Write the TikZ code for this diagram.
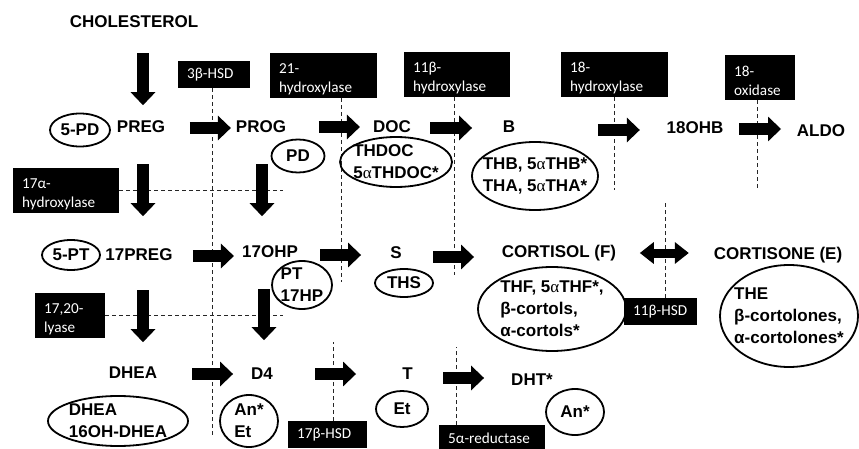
\documentclass[tikz,border=0pt]{standalone}
\usepackage{fontspec}
\setmainfont{Liberation Sans}
\newfontfamily\boxf{Carlito}
\newfontfamily\symf{Liberation Serif}
\usetikzlibrary{arrows.meta,shapes.geometric}
\newcommand{\al}{{\symf\mdseries α}}
\newcommand{\tstr}{\rule{0pt}{17pt}}
\begin{document}
\begin{tikzpicture}[x=1pt,y=-1pt,
  lbl/.style={font=\fontsize{17}{20}\selectfont\bfseries, inner sep=0pt},
  enz/.style={fill=black, text=white, font=\boxf\fontsize{15.2}{19}\selectfont, anchor=north west, inner xsep=9pt, inner ysep=0pt, align=left},
  ell/.style={ellipse, draw, line width=1.8pt, inner sep=0pt},
  etxt/.style={font=\fontsize{17}{22}\selectfont\bfseries, inner sep=0pt, align=left},
  fat/.style={line width=11.5pt, -{Triangle[length=13pt,width=24pt]}},
  dbl/.style={line width=9pt, {Triangle[length=14pt,width=21pt]}-{Triangle[length=14pt,width=21pt]}},
  dsh/.style={dash pattern=on 4pt off 3pt, line width=1pt, black!85}]
\useasboundingbox (0,0) rectangle (859,449);

% enzyme boxes
\node[enz, text width=54pt, minimum height=27pt] (hsd3) at (178,61) {3β-HSD};
\node[enz, text width=89pt, minimum height=45pt] (h21) at (270,53) {\tstr 21-\\hydroxylase};
\node[enz, text width=88pt, minimum height=45pt] (h11) at (404,52) {\tstr 11β-\\hydroxylase};
\node[enz, text width=89pt, minimum height=45pt] (h18) at (561,52) {\tstr 18-\\hydroxylase};
\node[enz, text width=52pt, minimum height=45pt] (ox18) at (725,55) {\tstr 18-\\oxidase};
\node[enz, text width=88pt, minimum height=45pt] (h17) at (13,168) {\tstr 17α-\\hydroxylase};
\node[enz, text width=52pt, minimum height=45pt] (ly) at (35,293) {\tstr 17,20-\\lyase};
\node[enz, text width=55pt, minimum height=27pt] (hsd11) at (624,298) {11β-HSD};
\node[enz, text width=61pt, minimum height=27pt] (hsd17) at (288,421) {17β-HSD};
\node[enz, text width=88pt, minimum height=26pt] (red5) at (439,425) {5α-reductase};

% dashed lines
\draw[dsh] ([xshift=34pt]hsd3.south west) -- ++(0,347);
\draw[dsh] ([xshift=71pt]h21.south west) -- ++(0,184);
\draw[dsh] ([xshift=50pt]h11.south west) -- ++(0,178);
\draw[dsh] ([xshift=53pt]h18.south west) -- ++(0,93);
\draw[dsh] ([xshift=32pt]ox18.south west) -- ++(0,88);
\draw[dsh] (h17.east) -- ++(164,0);
\draw[dsh] (ly.east) -- ++(178,0);
\draw[dsh] ([xshift=41pt]hsd11.north west) -- ++(0,-95);
\draw[dsh] ([xshift=45pt]hsd17.north west) -- ++(0,-79);
\draw[dsh] ([xshift=17pt]red5.north west) -- ++(0,-78);

% labels
\node[lbl] (chol) at (134,22) {CHOLESTEROL};
\node[lbl] (preg) at (141,127) {PREG};
\node[lbl] (prog) at (261,127) {PROG};
\node[lbl] (doc) at (392,127) {DOC};
\node[lbl] (b) at (509,127) {B};
\node[lbl] (ohb) at (695,128) {18OHB};
\node[lbl] (aldo) at (821,131) {ALDO};
\node[lbl] (preg17) at (139,255) {17PREG};
\node[lbl] (ohp17) at (270,252) {17OHP};
\node[lbl] (s) at (396,253) {S};
\node[lbl] (cort) at (559,253) {CORTISOL (F)};
\node[lbl] (cortE) at (778,255) {CORTISONE (E)};
\node[lbl] (dhea) at (133,373) {DHEA};
\node[lbl] (d4) at (262,374) {D4};
\node[lbl] (t) at (407.5,374) {T};
\node[lbl] (dht) at (532,380) {DHT*};

% ellipses
\node[ell, minimum width=60pt, minimum height=33pt] (pdE) at (80,130) {};
\node[etxt] (pd5) at (pdE) {5-PD};
\node[ell, minimum width=53pt, minimum height=33pt] (pdE2) at (298,156) {};
\node[etxt] (pd) at (pdE2) {PD};
\node[ell, minimum width=112pt, minimum height=50pt] (thdocE) at (396,162) {};
\node[etxt] (thdoc) at (thdocE) {THDOC\\5\al THDOC*};
\node[ell, minimum width=126pt, minimum height=68pt] (thbE) at (535,176) {};
\node[etxt] (thb) at (thbE) {THB, 5\al THB*\\THA, 5\al THA*};
\node[ell, minimum width=58pt, minimum height=30pt] (ptE) at (71,255) {};
\node[etxt] (pt5) at (ptE) {5-PT};
\node[ell, minimum width=60pt, minimum height=48pt] (pthpE) at (302,285) {};
\node[etxt] (pthp) at (pthpE) {PT\\17HP};
\node[ell, minimum width=58pt, minimum height=28pt] (thsE) at (404,283) {};
\node[etxt] (ths) at (thsE) {THS};
\node[ell, minimum width=148pt, minimum height=84pt] (thfE) at (552,309) {};
\node[etxt] (thf) at (thfE) {THF, 5\al THF*,\\β-cortols,\\α-cortols*};
\node[ell, minimum width=138pt, minimum height=102pt] (theE) at (789,316) {};
\node[etxt] (the) at (theE) {THE\\β-cortolones,\\α-cortolones*};
\node[ell, minimum width=140pt, minimum height=50pt] (dheaE) at (118,421) {};
\node[etxt] (dhea16) at (dheaE) {DHEA\\16OH-DHEA};
\node[ell, minimum width=58pt, minimum height=52pt] (anetE) at (249,421) {};
\node[etxt] (anet) at (anetE) {An*\\Et};
\node[ell, minimum width=52pt, minimum height=36pt] (etE) at (402,409) {};
\node[etxt] (et) at (etE) {Et};
\node[ell, minimum width=58pt, minimum height=46pt] (anE) at (575,412) {};
\node[etxt] (an) at (anE) {An*};

% horizontal block arrows
\draw[fat] ([xshift=24.6pt,yshift=-1pt]preg.east) -- ++(41,0);
\draw[fat] ([xshift=32.7pt]prog.east) -- ++(41,0);
\draw[fat] ([xshift=19pt,yshift=-1pt]doc.east) -- ++(42,0);
\draw[fat] ([xshift=82.5pt,yshift=-3pt]b.east) -- ++(42,0);
\draw[fat] ([xshift=15.5pt,yshift=-1pt]ohb.east) -- ++(42,0);
\draw[fat] ([xshift=20.2pt,yshift=-1pt]preg17.east) -- ++(41,0);
\draw[fat] ([xshift=22pt,yshift=-3pt]ohp17.east) -- ++(41,0);
\draw[fat] ([xshift=31.2pt,yshift=-4pt]s.east) -- ++(41,0);
\draw[dbl] ([xshift=23.5pt]cort.east) -- ++(49,0);
\draw[fat] ([xshift=34.8pt,yshift=-1pt]dhea.east) -- ++(41,0);
\draw[fat] ([xshift=42pt]d4.east) -- ++(41,0);
\draw[fat] ([xshift=30.2pt,yshift=-4pt]t.east) -- ++(41,0);

% vertical block arrows
\draw[fat] ([xshift=9pt,yshift=-25pt]chol.south) -- ++(0,52);
\draw[fat] ([xshift=2pt,yshift=-31pt]preg.south) -- ++(0,52);
\draw[fat] ([xshift=1pt,yshift=-31pt]prog.south) -- ++(0,52);
\draw[fat] ([xshift=4pt,yshift=-29pt]preg17.south) -- ++(0,52);
\draw[fat] ([xshift=-6pt,yshift=-31pt]ohp17.south) -- ++(0,51);
\end{tikzpicture}
\end{document}
